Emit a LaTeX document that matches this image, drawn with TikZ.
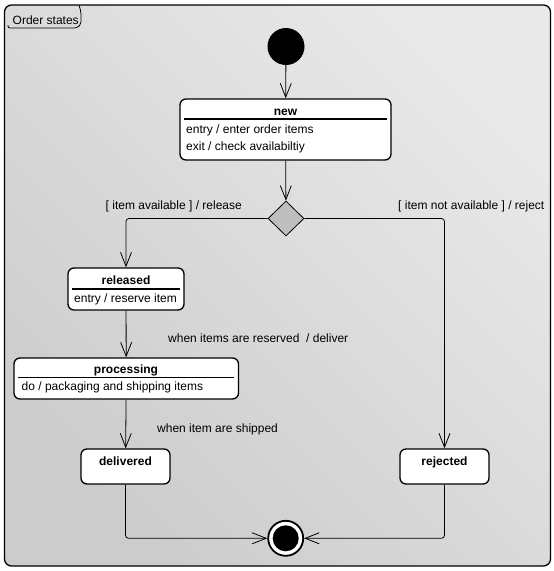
\documentclass[tikz,border=0pt]{standalone}
\usepackage{fontspec}
\setmainfont{Liberation Sans}
\usetikzlibrary{arrows.meta}
\usetikzlibrary{shapes.geometric}

\definecolor{frametop}{RGB}{204,204,204}
\definecolor{framebot}{RGB}{233,233,233}
\definecolor{choicegray}{RGB}{190,190,190}

\tikzset{
  statebox/.style={draw, line width=1.3pt, rounded corners=6pt, fill=white,
                   inner sep=0pt},
  txt/.style={font=\fontsize{12}{14}\selectfont, inner sep=0pt},
  nametxt/.style={font=\fontsize{12}{14}\selectfont\bfseries, inner sep=0pt},
  sepline/.style={line width=1.3pt},
  trans/.style={line width=0.8pt, rounded corners=3pt,
                -{Straight Barb[length=14pt,width=11pt]}},
}

\begin{document}
\begin{tikzpicture}[x=1pt, y=-1pt]
\useasboundingbox (0,0) rectangle (554,571);

\draw[line width=1.3pt, rounded corners=7pt, top color=frametop,
      bottom color=framebot, shading angle=135] (4.5,5) rectangle (550.5,566);
\draw[line width=0.8pt, rounded corners=2pt] (8,25) -- (8,28) -- (77,28)
  -- (81,24) -- (81,12) -- (79,5);
\node[txt, anchor=base west] (title) at (12.5,24.5) {Order states};

\node[circle, fill=black, minimum size=37pt, inner sep=0pt] (init) at (286,46.5) {};

\node[statebox, minimum width=211pt, minimum height=61pt] (new) at (285.5,129.5) {};
\node[nametxt, anchor=base] (newname) at (285.5,115) {new};
\draw[sepline] (184,119) -- (387,119);
\node[txt, anchor=base west] (newentry) at (186,133) {entry / enter order items};
\node[txt, anchor=base west] (newexit) at (186,150.5) {exit / check availabiltiy};

\node[diamond, draw, line width=0.8pt, fill=choicegray, inner sep=0pt,
      minimum width=36pt, minimum height=35pt] (choice) at (286,218.5) {};

\node[statebox, minimum width=116pt, minimum height=42pt] (released) at (126,289) {};
\node[nametxt, anchor=base] (relname) at (126,284.5) {released};
\draw[sepline] (72,289) -- (180,289);
\node[txt, anchor=base west] (relentry) at (74,302) {entry / reserve item};

\node[statebox, minimum width=224.5pt, minimum height=41pt] (processing) at (126.25,378.5) {};
\node[nametxt, anchor=base] (procname) at (126,373.5) {processing};
\draw[sepline] (18,377.5) -- (234,377.5);
\node[txt, anchor=base west] (procdo) at (21.5,390.5) {do / packaging and shipping items};

\node[statebox, minimum width=89pt, minimum height=35pt] (delivered) at (125.5,466.5) {};
\node[nametxt, anchor=base] (delname) at (125.5,465) {delivered};

\node[statebox, minimum width=89pt, minimum height=35pt] (rejected) at (444.5,466.5) {};
\node[nametxt, anchor=base] (rejname) at (444.5,465) {rejected};

\node[circle, draw, line width=1.8pt, fill=white, minimum size=35pt,
      inner sep=0pt] (final) at (285.7,538.3) {};
\fill[black] (final.center) circle (13pt);

\draw[trans] (init) -- (new);
\draw[trans] (new) -- (choice);
\draw[trans] (choice.west) -| (released.north);
\draw[trans] (choice.east) -| (rejected.north);
\draw[trans] (released) -- (processing);
\draw[trans] (processing) -- (delivered);
\draw[trans] (delivered.south) |- (final.west);
\draw[trans] (rejected.south) |- (final.east);

\node[txt, anchor=base east] (lblavail) at (242,209) {[ item available ] / release};
\node[txt, anchor=base east] (lblnot) at (544.5,209) {[ item not available ] / reject};
\node[txt, anchor=base west] (lblreserved) at (168,342) {when items are reserved\ \ / deliver};
\node[txt, anchor=base west] (lblshipped) at (157,432) {when item are shipped};
\end{tikzpicture}
\end{document}
